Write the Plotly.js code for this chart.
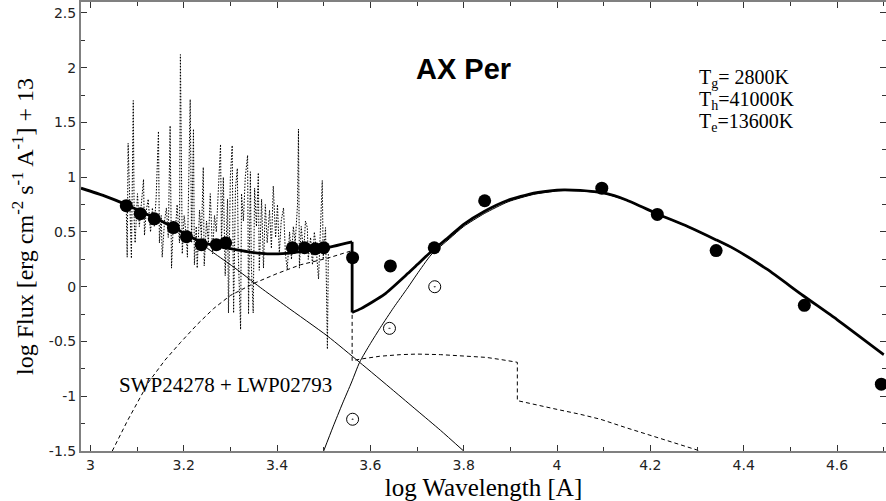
<!DOCTYPE html>
<html>
<head>
<meta charset="utf-8">
<script src="https://cdn.plot.ly/plotly-3.0.1.min.js"></script>
<style>html,body{margin:0;padding:0;background:#fff;}#chart{width:886px;height:501px;}</style>
</head>
<body>
<div id="chart"></div>
<script>
// IUE spectrum (SWP24278 + LWP02793), log wavelength vs log flux
const SPEC_X = [3.077,3.079,3.081,3.086,3.088,3.092,3.094,3.096,3.101,3.105,3.109,3.114,3.116,3.120,3.124,3.129,3.133,3.137,3.141,3.146,3.148,3.152,3.154,3.159,3.163,3.167,3.171,3.174,3.178,3.182,3.186,3.191,3.193,3.197,3.201,3.206,3.208,3.210,3.214,3.217,3.221,3.223,3.227,3.229,3.234,3.238,3.242,3.244,3.249,3.253,3.257,3.262,3.266,3.270,3.274,3.279,3.281,3.285,3.289,3.294,3.296,3.300,3.304,3.307,3.311,3.315,3.317,3.322,3.324,3.328,3.332,3.337,3.339,3.343,3.345,3.349,3.352,3.356,3.360,3.362,3.367,3.371,3.375,3.379,3.384,3.388,3.392,3.397,3.401,3.405,3.409,3.414,3.418,3.422,3.427,3.431,3.435,3.439,3.444,3.446,3.448,3.452,3.457,3.461,3.465,3.467,3.472,3.476,3.480,3.484,3.489,3.493,3.497,3.499,3.504,3.508,3.510];
const SPEC_Y = [0.72,0.27,1.31,0.60,0.26,1.70,0.60,0.40,0.85,0.55,0.75,0.98,0.47,0.70,0.80,0.50,0.72,0.55,0.81,1.42,0.40,0.65,0.27,0.60,0.72,0.45,1.47,0.17,0.60,0.50,0.75,0.40,2.12,0.30,0.65,0.45,0.27,0.90,1.71,0.40,1.44,0.20,0.55,0.17,0.70,0.45,1.09,0.19,0.60,0.40,0.85,0.30,0.65,0.50,0.90,1.30,0.40,1.00,0.10,0.80,-0.24,1.00,1.29,-0.24,0.90,1.08,0.30,-0.39,0.85,0.60,1.00,1.20,-0.25,1.05,0.20,-0.24,0.90,0.55,1.04,0.15,0.80,0.17,0.75,0.40,0.70,0.35,0.92,0.45,0.75,0.30,0.60,0.72,0.30,0.16,0.50,0.25,0.55,0.40,0.75,1.44,0.17,0.55,0.30,0.60,0.54,0.25,0.45,0.20,0.50,0.35,0.07,0.50,0.97,0.25,0.54,-0.57,0.30];

// Total model (thick): UV part up to the Balmer jump, then optical/IR part
const TOT_UV_X = [2.98,3.03,3.077,3.107,3.137,3.178,3.206,3.238,3.27,3.29,3.336,3.379,3.42,3.46,3.50,3.561];
const TOT_UV_Y = [0.90,0.83,0.75,0.69,0.63,0.545,0.475,0.41,0.37,0.355,0.32,0.30,0.305,0.325,0.35,0.41];
const TOT_OPT_X = [3.561,3.561,3.58,3.63,3.68,3.70,3.73,3.77,3.80,3.845,3.895,3.95,4.00,4.015,4.05,4.10,4.15,4.215,4.28,4.34,4.378,4.45,4.527,4.60,4.70];
const TOT_OPT_Y = [0.41,-0.235,-0.20,-0.07,0.12,0.20,0.32,0.46,0.57,0.69,0.79,0.855,0.882,0.885,0.88,0.856,0.79,0.665,0.55,0.43,0.35,0.16,-0.08,-0.30,-0.62];

// Hot component (thin)
const HOT_X = [2.98,3.03,3.077,3.13,3.17,3.20,3.238,3.264,3.307,3.364,3.42,3.508,3.577,3.65,3.70,3.75,3.80];
const HOT_Y = [0.90,0.83,0.745,0.64,0.555,0.49,0.39,0.31,0.18,-0.006,-0.18,-0.45,-0.69,-0.95,-1.13,-1.31,-1.50];

// Giant component (thin)
const GIANT_X = [3.50,3.52,3.54,3.56,3.577,3.60,3.622,3.65,3.68,3.70,3.73,3.77,3.80,3.845,3.895,3.95,4.00,4.015,4.05,4.10,4.15,4.215,4.28,4.34,4.378,4.45,4.527,4.60,4.70];
const GIANT_Y = [-1.50,-1.28,-1.07,-0.87,-0.69,-0.52,-0.37,-0.19,-0.01,0.115,0.29,0.44,0.55,0.67,0.775,0.843,0.874,0.878,0.874,0.852,0.787,0.662,0.547,0.427,0.347,0.157,-0.083,-0.303,-0.623];

// Nebular component (dashed)
const NEB_X = [3.047,3.08,3.125,3.16,3.193,3.23,3.264,3.30,3.35,3.40,3.45,3.508,3.561,3.561,3.58,3.62,3.665,3.70,3.75,3.80,3.848,3.88,3.915,3.915,3.95,4.00,4.05,4.093,4.15,4.20,4.25,4.307];
const NEB_Y = [-1.50,-1.22,-0.87,-0.67,-0.51,-0.34,-0.20,-0.08,0.03,0.12,0.20,0.26,0.33,-0.675,-0.66,-0.635,-0.62,-0.615,-0.62,-0.63,-0.645,-0.665,-0.69,-1.04,-1.075,-1.12,-1.165,-1.21,-1.29,-1.355,-1.425,-1.50];

// Observed photometry (filled) and uncorrected points (open)
const OBS_X = [3.077,3.107,3.137,3.178,3.206,3.238,3.27,3.29,3.433,3.459,3.482,3.50,3.562,3.643,3.737,3.845,4.096,4.215,4.341,4.53,4.695];
const OBS_Y = [0.74,0.667,0.62,0.54,0.457,0.384,0.384,0.40,0.356,0.356,0.347,0.356,0.265,0.19,0.356,0.785,0.90,0.66,0.33,-0.17,-0.89];
const OPEN_X = [3.562,3.641,3.738];
const OPEN_Y = [-1.21,-0.38,0.0];

const XTICKS = [3,3.2,3.4,3.6,3.8,4,4.2,4.4,4.6];
const XTICKTEXT = ['3','3.2','3.4','3.6','3.8','4','4.2','4.4','4.6'];
const XMINOR = [3.1,3.3,3.5,3.7,3.9,4.1,4.3,4.5,4.7];
const YTICKS = [-1.5,-1,-0.5,0,0.5,1,1.5,2,2.5];
const YTICKTEXT = ['-1.5','-1','-0.5','0','0.5','1','1.5','2','2.5'];
const YMINOR = [-1.25,-0.75,-0.25,0.25,0.75,1.25,1.75,2.25];

const serif = 'Liberation Serif, Times New Roman, serif';
const sans = 'DejaVu Sans, Arial, sans-serif';

const thick = {color: '#000', width: 2.8, shape: 'spline', smoothing: 0.5};
const traces = [
  {x: SPEC_X, y: SPEC_Y, mode: 'lines', line: {color: '#000', width: 1, dash: '1.5px,1.5px'}},
  {x: NEB_X, y: NEB_Y, mode: 'lines', line: {color: '#000', width: 1, dash: '4px,3px'}},
  {x: HOT_X, y: HOT_Y, mode: 'lines', line: {color: '#000', width: 1, shape: 'spline', smoothing: 0.6}},
  {x: GIANT_X, y: GIANT_Y, mode: 'lines', line: {color: '#000', width: 1, shape: 'spline', smoothing: 0.6}},
  {x: TOT_UV_X, y: TOT_UV_Y, mode: 'lines', line: thick},
  {x: TOT_OPT_X.slice(0, 2), y: TOT_OPT_Y.slice(0, 2), mode: 'lines', line: {color: '#000', width: 2.8}},
  {x: TOT_OPT_X.slice(1), y: TOT_OPT_Y.slice(1), mode: 'lines', line: thick},
  {x: OBS_X, y: OBS_Y, mode: 'markers', marker: {symbol: 'circle', size: 13, color: '#000'}},
  {x: OPEN_X, y: OPEN_Y, mode: 'markers', marker: {symbol: 'circle-open-dot', size: 12, color: '#000', line: {width: 1, color: '#000'}}}
];

const axisCommon = {
  showline: true, linecolor: '#808080', linewidth: 2, mirror: 'allticks',
  ticks: 'inside', ticklen: 6, tickwidth: 1, tickcolor: '#333',
  showgrid: false, zeroline: false, tickmode: 'array',
  tickfont: {family: sans, size: 14, color: '#222'}
};

const layout = {
  width: 886, height: 501,
  margin: {l: 81, r: 0, t: 2, b: 50},
  paper_bgcolor: '#fff', plot_bgcolor: '#fff',
  showlegend: false, hovermode: false,
  xaxis: Object.assign({}, axisCommon, {
    range: [2.98, 4.705], tickvals: XTICKS, ticktext: XTICKTEXT,
    minor: {tickmode: 'array', tickvals: XMINOR, ticks: 'inside', ticklen: 4, tickcolor: '#333', tickwidth: 1},
    title: {text: 'log Wavelength [A]', font: {family: serif, size: 25, color: '#000'}, standoff: 8}
  }),
  yaxis: Object.assign({}, axisCommon, {
    range: [-1.5, 2.6], tickvals: YTICKS, ticktext: YTICKTEXT,
    minor: {tickmode: 'array', tickvals: YMINOR, ticks: 'inside', ticklen: 4, tickcolor: '#333', tickwidth: 1},
    title: {text: 'log Flux [erg cm<sup>-2</sup> s<sup>-1</sup> A<sup>-1</sup>] + 13', font: {family: serif, size: 24, color: '#000'}, standoff: 8}
  }),
  annotations: [
    {x: 3.80, y: 1.99, xref: 'x', yref: 'y', text: '<b>AX Per</b>', showarrow: false, xanchor: 'center', yanchor: 'middle', font: {family: 'Liberation Sans, Arial, sans-serif', size: 29, color: '#000'}},
    {x: 4.30, y: 1.90, xref: 'x', yref: 'y', text: 'T<sub>g</sub>= 2800K', showarrow: false, xanchor: 'left', yanchor: 'middle', font: {family: serif, size: 20, color: '#000'}},
    {x: 4.30, y: 1.70, xref: 'x', yref: 'y', text: 'T<sub>h</sub>=41000K', showarrow: false, xanchor: 'left', yanchor: 'middle', font: {family: serif, size: 20, color: '#000'}},
    {x: 4.30, y: 1.50, xref: 'x', yref: 'y', text: 'T<sub>e</sub>=13600K', showarrow: false, xanchor: 'left', yanchor: 'middle', font: {family: serif, size: 20, color: '#000'}},
    {x: 3.058, y: -0.90, xref: 'x', yref: 'y', text: 'SWP24278 + LWP02793', showarrow: false, xanchor: 'left', yanchor: 'middle', font: {family: serif, size: 21, color: '#000'}}
  ]
};

Plotly.newPlot('chart', traces, layout, {staticPlot: true, displayModeBar: false});
</script>
</body>
</html>
